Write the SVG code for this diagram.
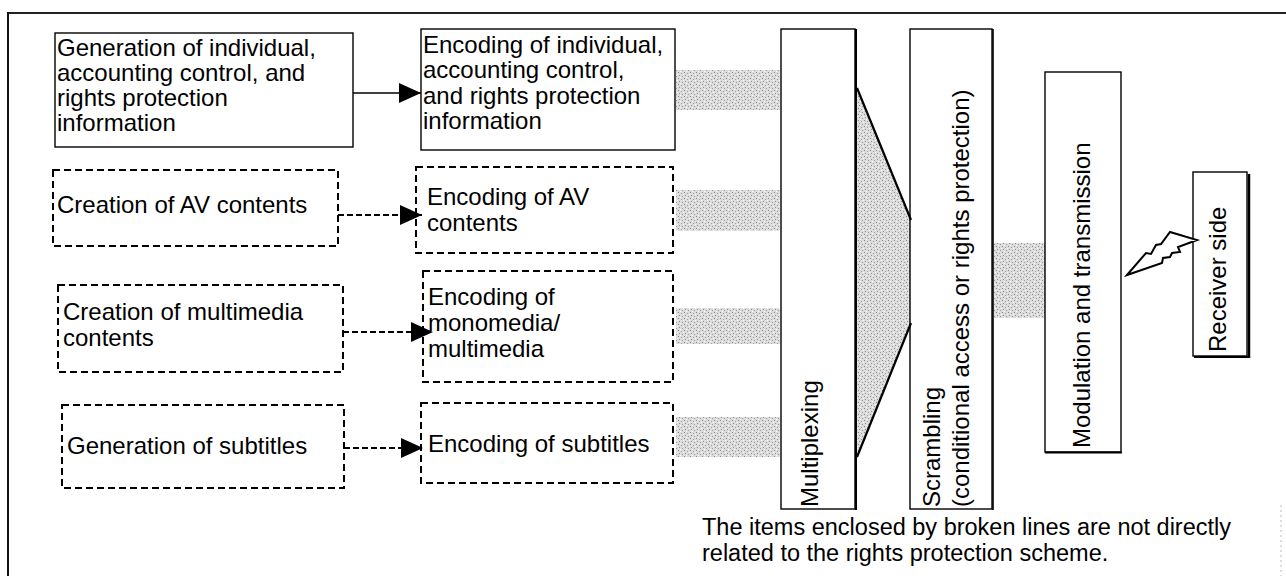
<svg xmlns="http://www.w3.org/2000/svg" width="1286" height="576" viewBox="0 0 1286 576">
<style>
  text { font-family: "Liberation Sans", Arial, sans-serif; font-size: 24px; fill: #000; }
  .cap { font-size: 23.5px; }
  .box { fill: #fff; stroke: #000; stroke-width: 1.4; }
  .dbox { fill: #fff; stroke: #000; stroke-width: 2; stroke-dasharray: 7 4; }
  .conn { stroke: #000; stroke-width: 1.6; fill: none; }
  .dconn { stroke: #000; stroke-width: 2; fill: none; stroke-dasharray: 6 3; }
  .band { fill: url(#stip); stroke: none; }
  .edge { stroke: #000; stroke-width: 2.2; fill: none; }
</style>
<defs>
  <pattern id="stip" width="6" height="6" patternUnits="userSpaceOnUse">
    <rect width="6" height="6" fill="#dcdcdc"/>
    <rect x="0" y="0" width="1" height="1" fill="#8a8a8a"/>
    <rect x="3" y="1" width="1" height="1" fill="#a0a0a0"/>
    <rect x="1" y="3" width="1" height="1" fill="#909090"/>
    <rect x="4" y="4" width="1" height="1" fill="#9a9a9a"/>
    <rect x="5" y="2" width="1" height="1" fill="#ffffff"/>
    <rect x="2" y="5" width="1" height="1" fill="#ffffff"/>
  </pattern>
  <marker id="ah" markerUnits="userSpaceOnUse" markerWidth="22" markerHeight="22" viewBox="0 0 22 22" refX="22" refY="11" orient="auto">
    <path d="M0,1 L22,11 L0,21 Z" fill="#000"/>
  </marker>
</defs>

<!-- outer frame -->
<g id="frame">
  <line x1="8" y1="13" x2="1286" y2="13" stroke="#222" stroke-width="2"/>
  <line x1="8" y1="12" x2="8" y2="576" stroke="#111" stroke-width="2"/>
  <line x1="1281" y1="505" x2="1281" y2="576" stroke="#bbb" stroke-width="1" stroke-dasharray="2 3"/>
</g>

<!-- shaded bands -->
<g id="bands">
  <rect class="band" x="676" y="70" width="104" height="40"/>
  <rect class="band" x="676" y="190" width="104" height="41"/>
  <rect class="band" x="676" y="308" width="104" height="36"/>
  <rect class="band" x="676" y="417" width="104" height="40"/>
  <rect class="band" x="994" y="243" width="51" height="75"/>
  <polygon class="band" points="857,88 911,220 911,323 857,457"/>
</g>

<g id="n1">
  <rect class="box" x="55" y="33" width="298" height="114"/>
  <text x="57" y="56">Generation of individual,</text>
  <text x="57" y="81">accounting control, and</text>
  <text x="57" y="106">rights protection</text>
  <text x="57" y="131">information</text>
</g>
<g id="n2">
  <rect class="box" x="421" y="29" width="254" height="121"/>
  <text x="423" y="53">Encoding of individual,</text>
  <text x="423" y="78">accounting control,</text>
  <text x="423" y="104">and rights protection</text>
  <text x="423" y="129">information</text>
</g>
<g id="n3">
  <rect class="dbox" x="53" y="170" width="285" height="76"/>
  <text x="57" y="213">Creation of AV contents</text>
</g>
<g id="n4">
  <rect class="dbox" x="416" y="167" width="257" height="86"/>
  <text x="427" y="205">Encoding of AV</text>
  <text x="427" y="231">contents</text>
</g>
<g id="n5">
  <rect class="dbox" x="58" y="285" width="285" height="87"/>
  <text x="63" y="320">Creation of multimedia</text>
  <text x="63" y="346">contents</text>
</g>
<g id="n6">
  <rect class="dbox" x="423" y="271" width="250" height="111"/>
  <text x="428" y="305">Encoding of</text>
  <text x="428" y="331">monomedia/</text>
  <text x="428" y="357">multimedia</text>
</g>
<g id="n7">
  <rect class="dbox" x="62" y="405" width="282" height="83"/>
  <text x="67" y="454">Generation of subtitles</text>
</g>
<g id="n8">
  <rect class="dbox" x="421" y="403" width="252" height="80"/>
  <text x="428" y="452">Encoding of subtitles</text>
</g>

<g id="n9">
  <rect class="box" x="781" y="29" width="74" height="480"/>
  <line x1="856" y1="29" x2="856" y2="510" stroke="#000" stroke-width="2"/>
  <text transform="translate(818,507) rotate(-90)">Multiplexing</text>
</g>
<g id="n10">
  <rect class="box" x="910" y="29" width="82" height="480"/>
  <line x1="993" y1="29" x2="993" y2="510" stroke="#000" stroke-width="1.6"/>
  <text transform="translate(940,507) rotate(-90)">Scrambling</text>
  <text transform="translate(969,507) rotate(-90)">(conditional access or rights protection)</text>
</g>
<g id="n11">
  <rect class="box" x="1045" y="72" width="76" height="380"/>
  <line x1="1045" y1="452.5" x2="1122" y2="452.5" stroke="#000" stroke-width="2"/>
  <text transform="translate(1090,448) rotate(-90)">Modulation and transmission</text>
</g>
<g id="n12">
  <rect class="box" x="1193" y="172" width="54" height="184"/>
  <line x1="1249" y1="174" x2="1249" y2="358" stroke="#000" stroke-width="2.5"/>
  <line x1="1194" y1="357" x2="1250" y2="357" stroke="#000" stroke-width="2"/>
  <text transform="translate(1226,352) rotate(-90)">Receiver side</text>
</g>

<g id="connectors">
  <line class="conn" x1="353" y1="93" x2="421" y2="93" marker-end="url(#ah)"/>
  <line class="dconn" x1="338" y1="215" x2="422" y2="215" marker-end="url(#ah)"/>
  <line class="dconn" x1="343" y1="332" x2="433" y2="332" marker-end="url(#ah)"/>
  <line class="dconn" x1="344" y1="448" x2="423" y2="448" marker-end="url(#ah)"/>
  <line class="edge" x1="857" y1="88" x2="911" y2="220"/>
  <line class="edge" x1="857" y1="457" x2="911" y2="323"/>
  <polygon points="1127,275 1146,253 1151,254 1156,245 1161,244 1170,232 1197,240 1178,247 1180,252 1172,253 1170,257 1163,258 1162,263" fill="#fff" stroke="#000" stroke-width="2" stroke-linejoin="miter"/>
</g>

<g id="caption">
  <text class="cap" x="702" y="535">The items enclosed by broken lines are not directly</text>
  <text class="cap" x="702" y="561">related to the rights protection scheme.</text>
</g>
</svg>
